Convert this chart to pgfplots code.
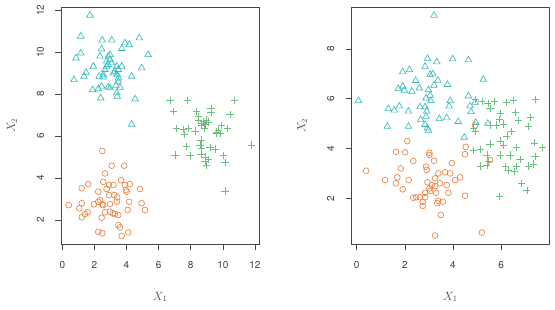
\documentclass[border=0pt]{standalone}
\usepackage{pgfplots}
\pgfplotsset{compat=1.18}
\usepackage{fontspec}
\setsansfont{TeX Gyre Heros}
\definecolor{corange}{RGB}{238,128,62}
\definecolor{cteal}{RGB}{52,188,186}
\definecolor{cgreen}{RGB}{106,192,124}
\definecolor{boxcol}{RGB}{70,70,70}
\pgfplotsset{
  myax/.style={
    scale only axis, width=197.5pt, height=236.7pt,
    axis line style={boxcol, line width=0.6pt},
    tick align=outside, tick pos=left,
    major tick length=6pt,
    tick style={boxcol, line width=0.6pt},
    /pgf/number format/assume math mode=true,
    ticklabel style={font=\sffamily\fontsize{10}{12}\selectfont, text=black!75},
    xticklabel style={yshift=-8pt},
    yticklabel style={xshift=-8pt, rotate=90, anchor=south},
    xlabel style={at={(axis description cs:0.5,0)}, anchor=center, yshift=-53pt, font=\fontsize{12}{14}\selectfont, text=black!70},
    ylabel style={at={(axis description cs:0,0.5)}, anchor=center, yshift=49.5pt, font=\fontsize{12}{14}\selectfont, text=black!70},
    xlabel={$X_1$}, ylabel={$X_2$},
    clip=false,
  },
  circ/.style={only marks, mark=o, mark size=2.9pt, mark options={corange, line width=0.65pt}},
  tri/.style={only marks, mark=triangle, mark size=3.8pt, mark options={cteal, line width=0.65pt}},
  crs/.style={only marks, mark=+, mark size=3.6pt, mark options={cgreen, line width=0.6pt}},
}
\begin{document}
\begin{tikzpicture}
\begin{axis}[myax, xmin=-0.05, xmax=12.25, ymin=0.86, ymax=12.13,
  xtick={0,2,4,6,8,10,12}, ytick={2,4,6,8,10,12}]
\addplot[tri] table {
x y
1.72 11.75
1.15 10.75
2.49 10.56
3.08 10.56
4.79 10.67
3.90 10.43
4.17 10.35
3.70 10.16
2.45 10.14
1.15 9.95
0.85 9.71
2.35 9.80
2.86 9.80
2.97 9.63
2.76 9.56
5.35 9.87
1.93 9.32
2.76 9.32
3.70 9.32
4.94 9.24
1.48 9.03
1.35 8.84
2.66 9.16
2.55 8.92
3.28 9.08
3.49 9.16
3.18 9.00
2.30 8.84
2.55 8.81
3.49 8.76
4.32 8.84
0.73 8.68
3.49 8.60
2.45 8.37
2.86 8.33
3.59 8.32
3.34 8.41
1.89 8.20
2.24 8.25
2.97 8.29
3.39 8.05
3.42 7.89
2.39 7.81
4.53 7.76
4.32 6.56
2.97 9.87
3.08 9.48
2.86 9.40
3.42 8.92
3.39 9.32
};
\addplot[crs] table {
x y
6.71 7.71
7.78 7.71
10.71 7.71
6.91 7.16
8.37 7.16
9.26 7.32
9.26 7.13
10.44 7.03
8.47 6.92
8.47 6.76
8.78 6.68
8.89 6.56
8.68 6.52
8.99 6.76
9.93 6.52
10.30 6.37
7.12 6.37
7.53 6.33
7.85 6.37
7.60 6.08
8.26 6.24
8.84 6.37
9.61 6.20
9.82 6.13
9.71 6.29
8.64 5.81
8.57 5.57
8.68 5.44
7.75 5.49
9.20 5.46
9.51 5.38
11.79 5.57
7.02 5.10
7.95 5.06
8.64 5.13
8.89 5.01
9.09 4.90
10.03 5.06
10.13 4.75
8.89 4.78
8.99 4.59
10.13 3.38
8.68 6.60
9.61 6.13
9.07 6.67
};
\addplot[circ] table {
x y
2.49 5.29
3.08 4.59
3.86 4.59
2.66 4.22
1.62 3.71
2.55 3.82
2.91 3.67
3.18 3.67
3.66 3.90
3.90 3.67
4.21 3.71
1.21 3.51
2.24 3.35
2.76 3.48
3.95 3.43
4.01 3.35
4.84 3.48
3.24 3.19
2.91 3.19
3.42 3.08
2.35 2.95
2.24 2.87
2.49 2.75
1.97 2.75
2.55 2.71
2.97 2.76
3.39 2.87
4.17 2.87
0.40 2.71
1.21 2.80
1.06 2.56
4.94 2.80
5.15 2.48
4.07 2.48
2.66 2.37
2.97 2.40
3.14 2.32
3.28 2.29
3.49 2.24
1.58 2.37
1.41 2.29
1.21 2.13
2.45 2.11
3.49 1.76
3.59 1.65
2.24 1.44
2.49 1.37
4.11 1.41
3.70 1.25
};
\end{axis}
\begin{axis}[myax, xshift=290.2pt, xmin=-0.21, xmax=8.0, ymin=0.16, ymax=9.68,
  xtick={0,2,4,6}, ytick={2,4,6,8}]
\addplot[tri] table {
x y
3.21 9.35
0.07 5.92
2.94 7.61
3.33 7.48
3.99 7.60
4.64 7.56
2.84 7.30
1.91 7.08
2.19 7.17
3.05 6.97
3.16 7.00
3.37 6.74
2.45 6.73
5.26 6.78
3.77 6.57
3.21 6.54
1.73 6.40
1.91 6.50
1.98 6.34
2.29 6.30
2.60 6.43
2.98 6.36
3.05 6.14
2.88 6.03
3.08 5.92
3.88 5.92
4.64 6.11
4.92 5.86
4.71 5.71
4.75 5.48
1.31 5.60
1.56 5.54
1.77 5.70
2.15 5.50
2.63 5.67
2.84 5.67
2.91 5.50
3.84 5.70
2.66 5.16
2.88 5.29
3.43 5.20
3.74 5.23
4.22 5.08
4.95 5.04
5.45 5.01
1.27 4.89
2.15 4.89
2.84 4.96
2.94 4.82
2.98 4.73
4.47 4.45
};
\addplot[crs] table {
x y
4.92 5.98
5.20 5.88
5.45 5.82
5.72 5.88
6.21 5.84
6.51 5.92
7.44 5.98
5.54 5.62
5.96 5.42
6.61 5.44
7.21 5.25
5.92 5.17
6.72 5.12
4.85 4.81
4.92 4.68
5.54 4.95
5.82 4.95
6.10 4.99
6.42 4.68
6.24 4.50
7.14 4.88
5.96 4.31
5.54 4.18
6.10 4.14
6.65 4.05
7.38 4.23
7.72 4.05
4.85 3.91
5.13 3.97
5.41 3.74
5.96 3.74
6.37 3.74
6.79 3.57
7.41 3.67
5.13 3.30
5.47 3.47
6.17 3.27
6.65 3.27
7.14 3.30
5.41 3.34
6.30 3.14
6.55 3.07
7.34 3.38
6.86 2.60
7.07 2.30
5.92 2.06
};
\addplot[circ] table {
x y
2.10 4.30
1.63 3.87
2.01 3.85
3.02 3.83
3.02 3.74
2.35 3.50
3.21 3.51
3.95 3.41
0.39 3.11
1.83 3.20
2.88 3.27
2.91 3.14
3.39 3.00
3.67 3.04
3.88 3.00
1.18 2.73
1.69 2.84
2.16 2.73
3.26 2.80
1.63 2.60
1.91 2.36
2.94 2.64
3.12 2.53
3.26 2.49
3.02 2.40
3.05 2.30
3.46 2.60
3.74 2.53
2.84 2.22
3.30 2.22
3.81 2.22
2.35 2.02
2.47 2.04
2.63 2.04
2.84 2.04
2.74 1.86
3.39 1.90
3.58 1.86
3.35 1.80
2.74 1.69
3.49 1.33
3.26 0.50
4.50 3.77
4.53 4.07
4.30 2.84
4.09 2.73
4.50 2.10
5.20 0.62
5.54 3.54
4.92 4.93
};
\end{axis}
\pgfresetboundingbox
\path[use as bounding box] (-61.5pt,-66pt) rectangle (493.5pt,244pt);
\end{tikzpicture}
\end{document}
